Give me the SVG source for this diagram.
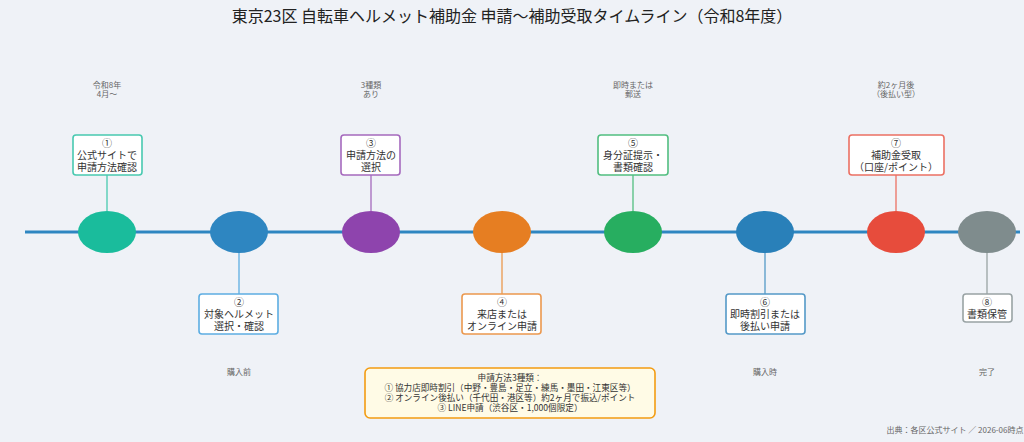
<svg xmlns="http://www.w3.org/2000/svg" width="1024" height="442" viewBox="0 0 1024 442">
<style>
text{font-family:"Noto Sans CJK JP","Noto Sans",sans-serif;text-anchor:middle}
.t{font-size:16px;fill:#222}
.lb{font-size:10px;fill:#333}
.sm{font-size:8px;fill:#666}
.nt{font-size:8.6px;fill:#333}
.box{fill:#fff;stroke-width:1.6}
.c{stroke-width:1.3}
</style>
<rect width="1024" height="442" fill="#eff2f7"/>
<text class="t" x="512" y="22">東京23区 自転車ヘルメット補助金 申請〜補助受取タイムライン（令和8年度）</text>
<g id="connectors">
<line x1="25" y1="232" x2="1020" y2="232" stroke="#2e86c1" stroke-width="3"/>
<line class="c" x1="107" y1="175" x2="107" y2="211" stroke="#48c9b0"/>
<line class="c" x1="239" y1="253" x2="239" y2="294" stroke="#5dade2"/>
<line class="c" x1="371" y1="175" x2="371" y2="211" stroke="#a569bd"/>
<line class="c" x1="502" y1="253" x2="502" y2="294" stroke="#eb984e"/>
<line class="c" x1="633" y1="175" x2="633" y2="211" stroke="#52be80"/>
<line class="c" x1="765" y1="253" x2="765" y2="294" stroke="#5499c7"/>
<line class="c" x1="896" y1="175" x2="896" y2="211" stroke="#ec7063"/>
<line class="c" x1="987" y1="253" x2="987" y2="294" stroke="#99a3a4"/>
</g>
<g id="n1"><ellipse cx="107" cy="232" rx="29" ry="21" fill="#1abc9c"/><rect class="box" x="73" y="135" width="69" height="40" rx="3" stroke="#48c9b0"/><text class="lb" x="107" y="147">①</text><text class="lb" x="107" y="159">公式サイトで</text><text class="lb" x="107" y="171">申請方法確認</text><text class="sm" x="107" y="88">令和8年</text><text class="sm" x="107" y="97">4月〜</text></g>
<g id="n2"><ellipse cx="239" cy="232" rx="29" ry="21" fill="#2e86c1"/><rect class="box" x="199" y="294" width="79" height="40" rx="3" stroke="#5dade2"/><text class="lb" x="239" y="306">②</text><text class="lb" x="239" y="318">対象ヘルメット</text><text class="lb" x="239" y="330">選択・確認</text><text class="sm" x="239" y="375">購入前</text></g>
<g id="n3"><ellipse cx="371" cy="232" rx="29" ry="21" fill="#8e44ad"/><rect class="box" x="341" y="135" width="59" height="40" rx="3" stroke="#a569bd"/><text class="lb" x="371" y="147">③</text><text class="lb" x="371" y="159">申請方法の</text><text class="lb" x="371" y="171">選択</text><text class="sm" x="371" y="88">3種類</text><text class="sm" x="371" y="97">あり</text></g>
<g id="n4"><ellipse cx="502" cy="232" rx="29" ry="21" fill="#e67e22"/><rect class="box" x="462" y="294" width="79" height="40" rx="3" stroke="#eb984e"/><text class="lb" x="502" y="306">④</text><text class="lb" x="502" y="318">来店または</text><text class="lb" x="502" y="330">オンライン申請</text></g>
<g id="n5"><ellipse cx="633" cy="232" rx="29" ry="21" fill="#27ae60"/><rect class="box" x="598" y="135" width="70" height="40" rx="3" stroke="#52be80"/><text class="lb" x="633" y="147">⑤</text><text class="lb" x="633" y="159">身分証提示・</text><text class="lb" x="633" y="171">書類確認</text><text class="sm" x="633" y="88">即時または</text><text class="sm" x="633" y="97">郵送</text></g>
<g id="n6"><ellipse cx="765" cy="232" rx="29" ry="21" fill="#2980b9"/><rect class="box" x="726" y="294" width="79" height="40" rx="3" stroke="#5499c7"/><text class="lb" x="765" y="306">⑥</text><text class="lb" x="765" y="318">即時割引または</text><text class="lb" x="765" y="330">後払い申請</text><text class="sm" x="765" y="375">購入時</text></g>
<g id="n7"><ellipse cx="896" cy="232" rx="29" ry="21" fill="#e74c3c"/><rect class="box" x="849" y="135" width="95" height="40" rx="3" stroke="#ec7063"/><text class="lb" x="896" y="147">⑦</text><text class="lb" x="896" y="159">補助金受取</text><text class="lb" x="896" y="171">（口座/ポイント）</text><text class="sm" x="896" y="88">約2ヶ月後</text><text class="sm" x="896" y="97">（後払い型）</text></g>
<g id="n8"><ellipse cx="987" cy="232" rx="29" ry="21" fill="#7f8c8d"/><rect class="box" x="963" y="294" width="49" height="28" rx="3" stroke="#99a3a4"/><text class="lb" x="987" y="306">⑧</text><text class="lb" x="987" y="318">書類保管</text><text class="sm" x="987" y="375">完了</text></g>
<g id="note"><rect x="365" y="368" width="290" height="50" rx="5" fill="#fffbe6" stroke="#f39c12" stroke-width="1.6"/><text class="nt" x="510" y="381">申請方法3種類：</text><text class="nt" x="510" y="391">① 協力店即時割引（中野・豊島・足立・練馬・墨田・江東区等）</text><text class="nt" x="510" y="401">② オンライン後払い（千代田・港区等）約2ヶ月で振込/ポイント</text><text class="nt" x="510" y="411">③ LINE申請（渋谷区・1,000個限定）</text></g>
<text class="sm" x="955" y="433">出典：各区公式サイト ／ 2026-06時点</text>
</svg>
